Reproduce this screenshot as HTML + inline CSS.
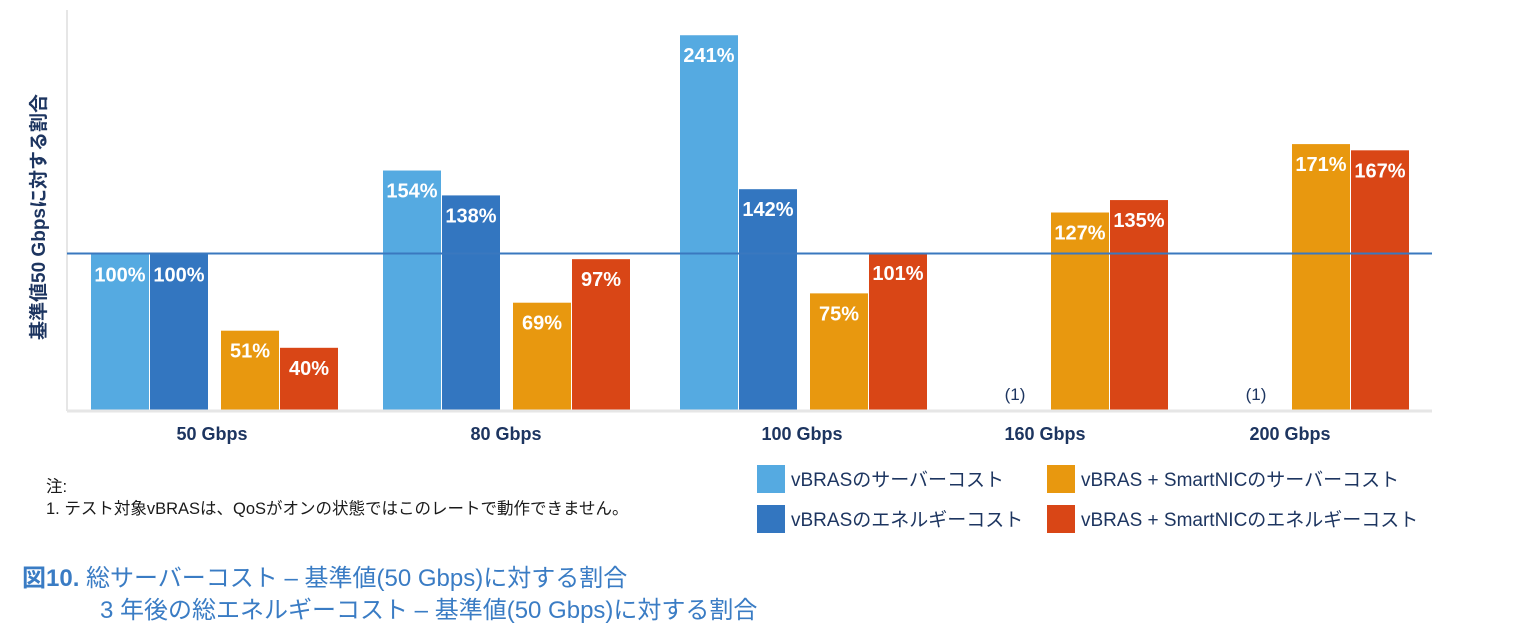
<!DOCTYPE html>
<html><head><meta charset="utf-8"><style>
body{margin:0;background:#fff;width:1528px;height:636px;overflow:hidden;font-family:"Liberation Sans","Noto Sans CJK JP",sans-serif}
svg text{font-family:"Liberation Sans","Noto Sans CJK JP",sans-serif}
</style></head><body>
<svg id="c" width="1528" height="636"></svg>
<script>
const categories=["50 Gbps","80 Gbps","100 Gbps","160 Gbps","200 Gbps"];
const serverCost=[100,154,241,null,null];
const energyCost=[100,138,142,null,null];
const nicServer=[51,69,75,127,171];
const nicEnergy=[40,97,101,135,167];
const seriesNames=["vBRASのサーバーコスト","vBRASのエネルギーコスト","vBRAS + SmartNICのサーバーコスト","vBRAS + SmartNICのエネルギーコスト"];
const colors=["#55aae1","#3376c0","#e8980f","#d94616"];
const orangeX=[221,513,810,1051,1292];
const catX=[212,506,802,1045,1290];
const base=410, k=1.555;
const y=v=>base-v*k;
const s=document.getElementById('c');
function mk(t,a,txt){const e=document.createElementNS("http://www.w3.org/2000/svg",t);for(const n in a)e.setAttribute(n,a[n]);if(txt!=null)e.textContent=txt;s.appendChild(e);return e;}
let e;
e=mk('line',{x1:67,y1:10,x2:67,y2:411,stroke:'#e6e6e6','stroke-width':2});


const series=[serverCost,energyCost,nicServer,nicEnergy];
const offs=[-130,-71,0,59];
categories.forEach((c,i)=>{
  series.forEach((arr,j)=>{
    const v=arr[i];
    if(v==null)return;
    const x=orangeX[i]+offs[j];
    e=mk('rect',{x:x,y:y(v),width:58,height:base-y(v),fill:colors[j]});
    
    
    e=mk('text',{x:x+29,y:y(v)+27,'text-anchor':'middle',fill:'#fff','font-size':20,'font-weight':'bold'},v+'%');
    
    
  });
  if(serverCost[i]==null){
    e=mk('text',{x:orangeX[i]-36,y:400,'text-anchor':'middle',fill:'#1d3560','font-size':17},'(1)');
    
    
  }
  e=mk('text',{x:catX[i],y:440,'text-anchor':'middle',fill:'#1d3560','font-size':18,'font-weight':'bold'},c);
  
  
});
e=mk('line',{x1:67,y1:411,x2:1432,y2:411,stroke:'#e6e6e6','stroke-width':3});


e=mk('line',{x1:67,y1:y(100)-1,x2:1432,y2:y(100)-1,stroke:'#3a78bf','stroke-width':2});


e=mk('text',{x:0,y:0,transform:'translate(45,217) rotate(-90)','text-anchor':'middle',fill:'#1d3560','font-size':19,'font-weight':'bold'},'基準値50 Gbpsに対する割合');


const lx=[757,757,1047,1047], ly=[465,505,465,505];
seriesNames.forEach((n,j)=>{
  e=mk('rect',{x:lx[j],y:ly[j],width:28,height:28,fill:colors[j]});
  
  
  e=mk('text',{x:lx[j]+34,y:ly[j]+21,fill:'#1d3560','font-size':19},n);
  
  
});
e=mk('text',{x:46,y:492,fill:'#1a1a1a','font-size':16.5},'注:');


e=mk('text',{x:46,y:514,fill:'#1a1a1a','font-size':16.5},'1. テスト対象vBRASは、QoSがオンの状態ではこのレートで動作できません。');


e=mk('text',{x:22,y:586,fill:'#3a7cc4','font-size':24},'');


e.innerHTML='<tspan font-weight="bold">図10.</tspan> 総サーバーコスト – 基準値(50 Gbps)に対する割合';
e=mk('text',{x:100,y:618,fill:'#3a7cc4','font-size':24},'3 年後の総エネルギーコスト – 基準値(50 Gbps)に対する割合');


</script>
</body></html>
